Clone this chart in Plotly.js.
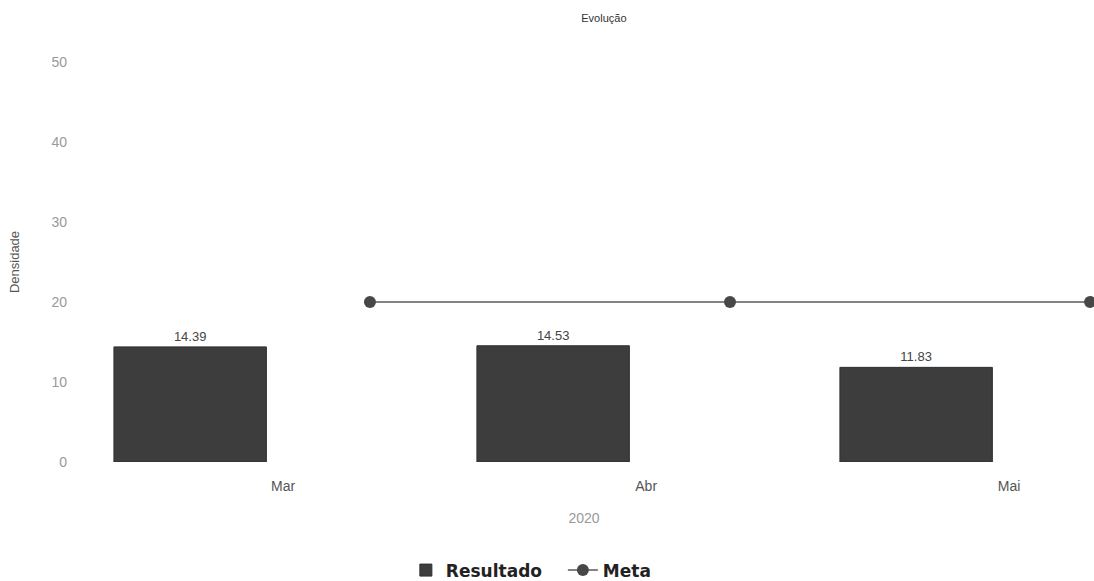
<!DOCTYPE html>
<html>
<head>
<meta charset="utf-8">
<script src="https://cdn.plot.ly/plotly-3.0.1.min.js"></script>
<style>html,body{margin:0;padding:0;background:#fff;}#chart{width:1094px;height:581px;}</style>
</head>
<body>
<div id="chart"></div>
<script>
const categories = ["Mar", "Abr", "Mai"];
const resultado = [14.39, 14.53, 11.83];
const meta = [20, 20, 20];

const traces = [
  {
    type: "bar",
    name: "Resultado",
    x: categories,
    y: resultado,
    width: 0.42,
    marker: { color: "#3d3d3d", line: { color: "#303030", width: 1 } },
    text: resultado.map(v => v.toFixed(2)),
    textposition: "outside",
    textfont: { family: "Liberation Sans, Arial, sans-serif", size: 13, color: "#444" },
    cliponaxis: false,
    hoverinfo: "x+y"
  },
  {
    type: "scatter",
    mode: "lines+markers",
    name: "Meta",
    x: categories,
    y: meta,
    xaxis: "x2",
    line: { color: "#5a5a5a", width: 1.5 },
    marker: { color: "#474747", size: 12 },
    cliponaxis: false
  }
];

const layout = {
  width: 1094,
  height: 581,
  paper_bgcolor: "#fff",
  plot_bgcolor: "#fff",
  margin: { l: 74, r: 0, t: 62, b: 119 },
  font: { family: "Liberation Sans, Arial, sans-serif", color: "#444" },
  title: {
    text: "Evolução",
    x: 0.552, xanchor: "center",
    y: 0.969, yanchor: "middle",
    font: { size: 11, color: "#333" }
  },
  showlegend: true,
  legend: {
    orientation: "h",
    xref: "container", x: 0.371, xanchor: "left",
    yref: "container", y: 0.018, yanchor: "middle",
    font: { family: "DejaVu Sans, sans-serif", size: 17, color: "#222", weight: "bold" },
    itemwidth: 30,
    entrywidth: 112
  },
  xaxis: {
    type: "category",
    range: [-0.32, 2.49],
    showgrid: false, zeroline: false, showline: false,
    ticks: "",
    ticklabelshift: 93,
    ticklabelstandoff: 14,
    tickfont: { size: 14, color: "#555" },
    title: { text: "2020", font: { size: 14, color: "#999" }, standoff: 20 }
  },
  xaxis2: {
    type: "category",
    overlaying: "x",
    side: "top",
    range: [-0.822, 2.011],
    showgrid: false, zeroline: false, showline: false,
    showticklabels: false, ticks: ""
  },
  yaxis: {
    range: [0, 50],
    dtick: 10,
    showgrid: false, zeroline: false, showline: false,
    ticks: "",
    ticklabelstandoff: 6,
    tickfont: { size: 14, color: "#999" },
    title: { text: "Densidade", font: { size: 13, color: "#555" }, standoff: 28 }
  },
  bargap: 0.58
};

Plotly.newPlot("chart", traces, layout, { displayModeBar: false, staticPlot: true });
</script>
</body>
</html>
